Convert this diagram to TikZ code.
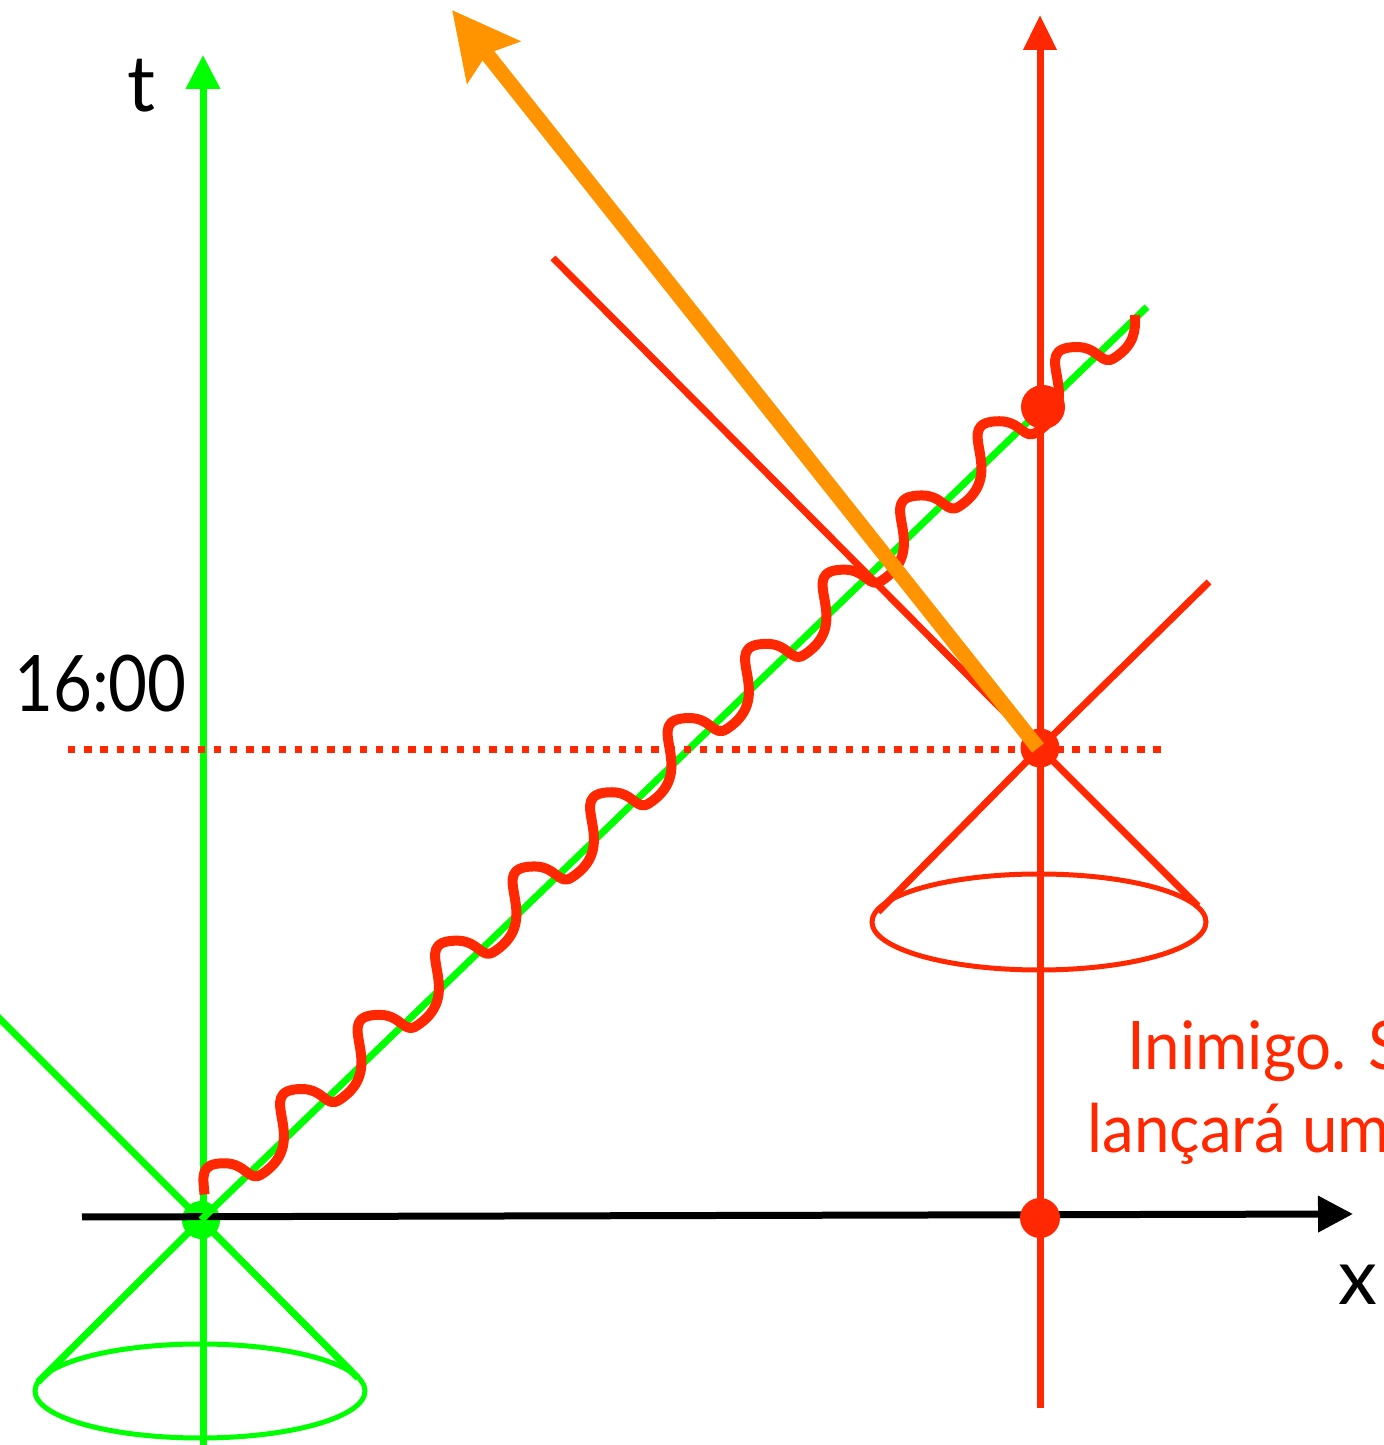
\documentclass[tikz,border=0pt]{standalone}
\usepackage{fontspec}
\setmainfont{Lato}
\usetikzlibrary{arrows.meta}
\definecolor{grn}{RGB}{0,255,0}
\definecolor{rd}{RGB}{255,40,0}
\definecolor{org}{RGB}{255,148,0}
\begin{document}
\begin{tikzpicture}[x=0.5pt,y=0.5pt,
  gthick/.style={draw=grn, line width=3.5pt},
  gthin/.style={draw=grn, line width=2.5pt},
  rthick/.style={draw=rd, line width=3.5pt},
  rthin/.style={draw=rd, line width=2.5pt},
  wave/.style={draw=rd, line width=5pt, line cap=butt, line join=round},
  dotline/.style={draw=rd, line width=3.5pt, dash pattern=on 3.65pt off 4.45pt},
  evdot/.style={circle, inner sep=0pt, minimum size=#1},
  lbl/.style={inner sep=0pt, font=\fontsize{39pt}{46pt}\selectfont},
  rtxt/.style={inner sep=0pt, text=rd, font=\fontsize{33.5pt}{40pt}\selectfont},
  oarrow/.style={draw=org, line width=7.5pt, -{Stealth[length=33pt,width=33pt,inset=5pt]}}
]
\useasboundingbox (0,0) rectangle (1384,1445);

% ---- named points ----
\coordinate (O) at (201,225);
\coordinate (tbot) at (203,-10);
\coordinate (ttop) at (203,1390);
\coordinate (gul) at (-30,456);
\coordinate (gur) at (1147,1138);
\coordinate (gll) at (38,63);
\coordinate (glr) at (358,67);
\coordinate (gell) at (200,54);
\coordinate (xl0) at (82,228);
\coordinate (xr0) at (1353,231);
\coordinate (E) at (1040,697);
\coordinate (rbot) at (1040,37);
\coordinate (rtop) at (1040,1430);
\coordinate (rul) at (553,1187);
\coordinate (rur) at (1209,863);
\coordinate (rll) at (878,533);
\coordinate (rlr) at (1198,539);
\coordinate (rell) at (1039,523);
\coordinate (d0) at (68,695);
\coordinate (d1) at (1165,695);
\coordinate (oend) at (1038,697);
\coordinate (otip) at (452,1435);
\coordinate (wstart) at (204.5,250.5);

% ---- green observer ----
\draw[gthick, -{Triangle[length=17pt,width=16.5pt]}] (tbot) -- (ttop);
\draw[gthin] (gell) ellipse [x radius=165, y radius=47];
\draw[gthick] (gll) -- (O) -- (glr);
\draw[gthick] (O) -- (gul);
\node[evdot=19pt, fill=grn] (gdot) at (O) {};

% ---- x axis ----
\draw[draw=black, line width=3.5pt, -{Triangle[length=17.5pt,width=17.5pt]}] (xl0) -- (xr0);
\draw[gthick] (O) -- (gur);

% ---- red enemy ----
\draw[rthick, -{Triangle[length=17.5pt,width=16pt]}] (rbot) -- (rtop);
\draw[rthin] (rell) ellipse [x radius=167, y radius=48];
\draw[rthick] (rll) -- (E) -- (rlr);
\draw[rthick] (rul) -- (E) -- (rur);
\draw[dotline] (d0) -- (d1);

% ---- photon wave ----
\draw[wave] (wstart) .. controls +(-1.5,19) and +(-25,0) .. ++(20,31.25)
  \foreach \n in {0,...,10}{
    .. controls +(22,0) and +(-13,-9) .. ++(37.5,-10.8)
    .. controls +(52,34) and +(-52,0) .. ++(40,85)
  }
  .. controls +(22,0) and +(-13,-9) .. ++(37.5,-10.8)
  .. controls +(20,13) and +(0.5,-16) .. ++(20.56,42.88);

\node[evdot=20pt, fill=rd] (ex) at (1040,227) {};
\node[evdot=22pt, fill=rd] (eu) at (1043,1038) {};
\node[evdot=19.5pt, fill=rd] (edot) at (E) {};

% ---- orange arrow ----
\draw[oarrow] (oend) -- (otip);

% ---- labels ----
\node[lbl, anchor=base] (tl) at (141,1333) {t};
\node[lbl, anchor=base east] (time) at (187,733) {\scalebox{0.86}[1]{16:00}};
\node[lbl, anchor=base] (xlab) at (1358,140) {x};
\node[rtxt, anchor=base west] (en1) at (1127,375) {\scalebox{0.95}[1]{Inimigo. S}};
\node[rtxt, anchor=base west] (en2) at (1087,292) {\scalebox{0.95}[1]{lançará um}};
\end{tikzpicture}
\end{document}
